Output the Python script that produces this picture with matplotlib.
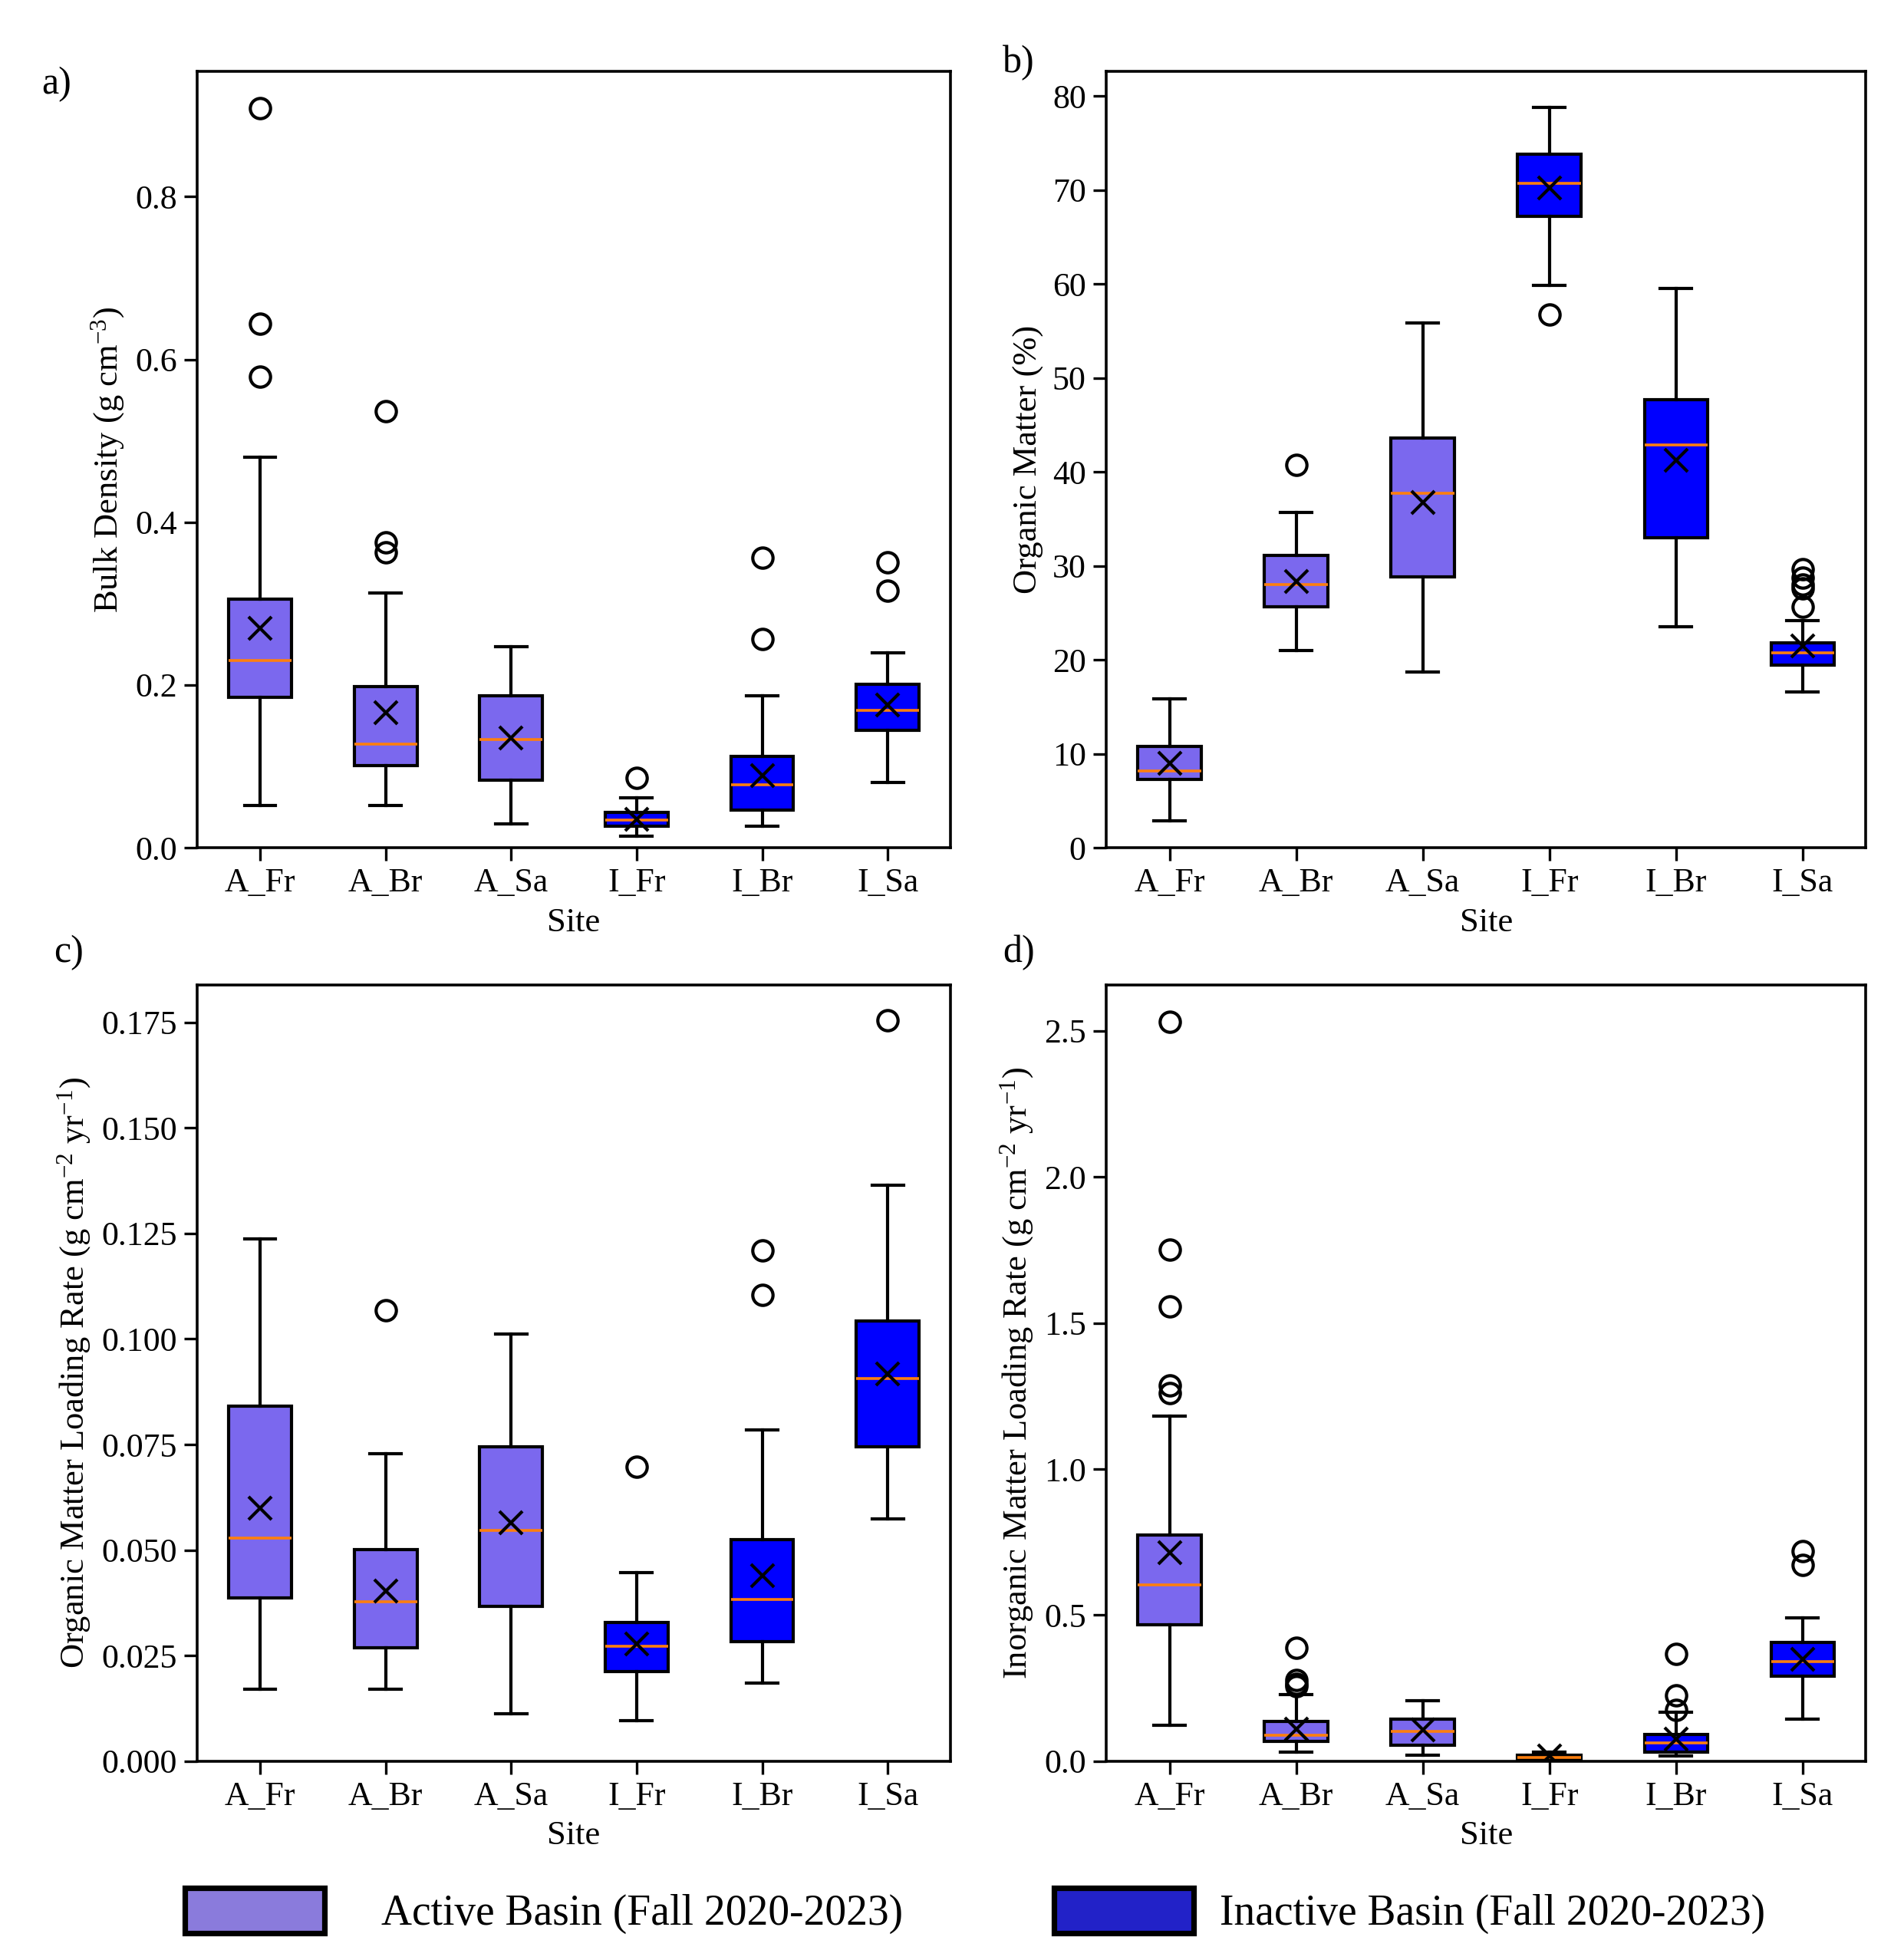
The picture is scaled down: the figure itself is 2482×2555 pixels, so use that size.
import matplotlib
matplotlib.use('Agg')
import matplotlib.pyplot as plt
from matplotlib.patches import Patch

plt.rcParams['font.family'] = ['Liberation Serif', 'DejaVu Serif']
plt.rcParams['mathtext.fontset'] = 'custom'
plt.rcParams['mathtext.rm'] = 'Liberation Serif'
plt.rcParams['mathtext.it'] = 'Liberation Serif:italic'
plt.rcParams['axes.unicode_minus'] = True

sites = ['A_Fr', 'A_Br', 'A_Sa', 'I_Fr', 'I_Br', 'I_Sa']
active_color = '#7b68ee'
inactive_color = '#0000ff'

# box stats: whislo, q1, med, q3, whishi, mean, fliers
bd_lo = [0.052, 0.052, 0.029, 0.014, 0.026, 0.080]
bd_q1 = [0.185, 0.101, 0.083, 0.026, 0.046, 0.144]
bd_med = [0.230, 0.127, 0.133, 0.034, 0.077, 0.169]
bd_q3 = [0.305, 0.198, 0.187, 0.043, 0.112, 0.201]
bd_hi = [0.480, 0.313, 0.247, 0.061, 0.187, 0.239]
bd_mean = [0.270, 0.166, 0.135, 0.035, 0.089, 0.175]
bd_fliers = [[0.909, 0.644, 0.579], [0.536, 0.375, 0.363], [], [0.086], [0.356, 0.256], [0.351, 0.316]]

om_lo = [2.9, 21.0, 18.7, 59.8, 23.5, 16.6]
om_q1 = [7.3, 25.6, 28.8, 67.2, 33.0, 19.4]
om_med = [8.2, 28.0, 37.7, 70.7, 42.9, 20.7]
om_q3 = [10.8, 31.1, 43.6, 73.8, 47.7, 21.8]
om_hi = [15.8, 35.7, 55.8, 78.8, 59.5, 24.2]
om_mean = [9.0, 28.3, 36.7, 70.2, 41.2, 21.5]
om_fliers = [[], [40.7], [], [56.7], [], [29.6, 28.7, 28.0, 27.6, 25.6]]

oml_lo = [0.0171, 0.0171, 0.0112, 0.0097, 0.0186, 0.0573]
oml_q1 = [0.0387, 0.0269, 0.0366, 0.0213, 0.0283, 0.0744]
oml_med = [0.0528, 0.0378, 0.0546, 0.0272, 0.0384, 0.0906]
oml_q3 = [0.0841, 0.0502, 0.0744, 0.0328, 0.0525, 0.1042]
oml_hi = [0.1237, 0.0729, 0.1012, 0.0446, 0.0785, 0.1364]
oml_mean = [0.0599, 0.0404, 0.0564, 0.0277, 0.0440, 0.0918]
oml_fliers = [[], [0.1068], [], [0.0697], [0.121, 0.1104], [0.1755]]

iml_lo = [0.124, 0.032, 0.021, 0.001, 0.018, 0.144]
iml_q1 = [0.466, 0.068, 0.055, 0.005, 0.031, 0.291]
iml_med = [0.603, 0.090, 0.103, 0.014, 0.064, 0.342]
iml_q3 = [0.774, 0.137, 0.144, 0.022, 0.091, 0.407]
iml_hi = [1.180, 0.229, 0.208, 0.031, 0.169, 0.490]
iml_mean = [0.714, 0.111, 0.107, 0.018, 0.077, 0.350]
iml_fliers = [[2.53, 1.752, 1.556, 1.286, 1.261], [0.389, 0.278, 0.266, 0.256], [], [], [0.367, 0.225, 0.175], [0.718, 0.671]]

panels = [
    ('a)', 'Bulk Density (g cm$^{-3}$)', bd_lo, bd_q1, bd_med, bd_q3, bd_hi, bd_mean, bd_fliers),
    ('b)', 'Organic Matter (%)', om_lo, om_q1, om_med, om_q3, om_hi, om_mean, om_fliers),
    ('c)', 'Organic Matter Loading Rate (g cm$^{-2}$ yr$^{-1}$)', oml_lo, oml_q1, oml_med, oml_q3, oml_hi, oml_mean, oml_fliers),
    ('d)', 'Inorganic Matter Loading Rate (g cm$^{-2}$ yr$^{-1}$)', iml_lo, iml_q1, iml_med, iml_q3, iml_hi, iml_mean, iml_fliers),
]

fig = plt.figure(figsize=(12.41, 12.775), dpi=200)
rects = [
    [0.1036, 0.5675, 0.3956, 0.396],
    [0.581, 0.5675, 0.399, 0.396],
    [0.1036, 0.1014, 0.3956, 0.396],
    [0.581, 0.1014, 0.399, 0.396],
]
label_pos = [(0.0295, 0.957), (0.535, 0.968), (0.036, 0.514), (0.535, 0.514)]

for i, (tag, ylab, lo, q1, med, q3, hi, mean, fl) in enumerate(panels):
    ax = fig.add_axes(rects[i])
    stats = []
    for j in range(len(sites)):
        stats.append({'whislo': lo[j], 'q1': q1[j], 'med': med[j], 'q3': q3[j],
                      'whishi': hi[j], 'mean': mean[j], 'fliers': fl[j], 'label': sites[j]})
    bp = ax.bxp(stats, positions=range(1, 7), widths=0.5, patch_artist=True, showmeans=True,
                boxprops=dict(linewidth=1.5, edgecolor='black'),
                whiskerprops=dict(linewidth=1.5, color='black'),
                capprops=dict(linewidth=1.5, color='black'),
                medianprops=dict(linewidth=1.3, color='#ff7f0e'),
                meanprops=dict(marker='x', markersize=10.5, markeredgecolor='black',
                               markeredgewidth=1.5),
                flierprops=dict(marker='o', markersize=9.5, markerfacecolor='none',
                                markeredgecolor='black', markeredgewidth=1.5))
    for j, box in enumerate(bp['boxes']):
        box.set_facecolor(active_color if j < 3 else inactive_color)
    ax.set_ylim(bottom=0)
    ax.set_xlabel('Site', fontsize=16, labelpad=4)
    ax.set_ylabel(ylab, fontsize=16, labelpad=4)
    ax.tick_params(labelsize=15.8, width=1.2, length=6)
    for s in ax.spines.values():
        s.set_linewidth(1.3)
    x, y = label_pos[i]
    fig.text(x, y, tag, fontsize=18, ha='center', va='center')

leg_y = 1 - 1529 / 1568
fig.legend([Patch(facecolor='#8a7bdc', edgecolor='black', linewidth=2.6)],
           ['Active Basin (Fall 2020-2023)'],
           loc='center left', bbox_to_anchor=(148 / 1523, leg_y), frameon=False,
           fontsize=20, handlelength=3.28, handleheight=1.23, handletextpad=1.32,
           borderpad=0, borderaxespad=0)
fig.legend([Patch(facecolor='#2222c8', edgecolor='black', linewidth=2.6)],
           ['Inactive Basin (Fall 2020-2023)'],
           loc='center left', bbox_to_anchor=(843 / 1523, leg_y), frameon=False,
           fontsize=20, handlelength=3.28, handleheight=1.23, handletextpad=0.62,
           borderpad=0, borderaxespad=0)

fig.savefig('out.png', dpi=200)
